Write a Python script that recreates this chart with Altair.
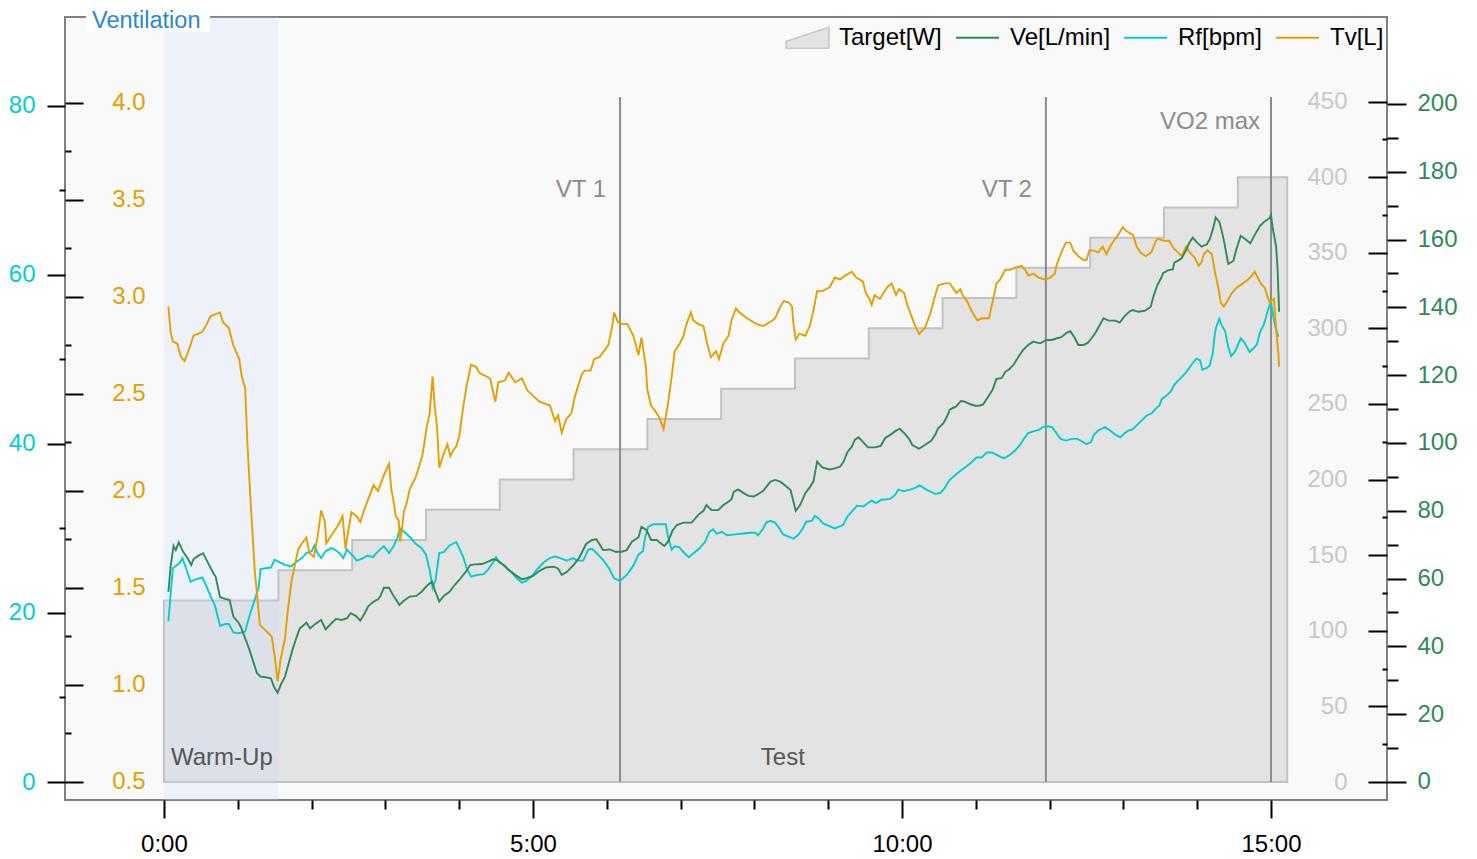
import altair as alt
import pandas as pd

FONT = "Liberation Sans"
FS = 24
LFS = 24

# ---------------- data ----------------
tv_t = [0.06,0.09,0.12,0.18,0.23,0.28,0.34,0.40,0.46,0.52,0.58,0.63,0.69,0.76,0.80,0.88,0.94,1.02,1.05,1.10,
        1.13,1.17,1.23,1.30,1.38,1.46,1.50,1.54,1.58,1.64,1.68,1.73,1.78,1.82,1.87,1.93,1.97,2.03,2.08,2.13,
        2.18,2.20,2.25,2.32,2.37,2.42,2.46,2.50,2.54,2.61,2.66,2.71,2.77,2.84,2.90,2.94,2.99,3.05,3.08,3.11,
        3.14,3.18,3.20,3.23,3.25,3.29,3.33,3.41,3.46,3.50,3.53,3.56,3.60,3.64,3.67,3.70,3.73,3.78,3.84,3.88,
        3.92,3.96,4.00,4.05,4.10,4.16,4.23,4.27,4.32,4.37,4.42,4.46,4.49,4.53,4.62,4.67,4.76,4.85,4.92,5.00,
        5.09,5.23,5.30,5.34,5.39,5.45,5.52,5.57,5.66,5.70,5.78,5.83,5.90,5.94,6.02,6.07,6.10,6.15,6.22,6.28,
        6.36,6.43,6.47,6.53,6.55,6.60,6.66,6.71,6.77,6.83,6.88,6.92,6.99,7.04,7.08,7.14,7.17,7.24,7.31,7.36,
        7.41,7.48,7.52,7.58,7.65,7.69,7.75,7.80,7.90,8.03,8.12,8.21,8.28,8.35,8.40,8.47,8.51,8.53,8.56,8.61,
        8.69,8.75,8.80,8.85,8.92,9.02,9.09,9.16,9.23,9.32,9.38,9.47,9.51,9.56,9.59,9.63,9.70,9.75,9.80,9.86,
        9.92,9.96,10.03,10.07,10.12,10.17,10.23,10.31,10.38,10.43,10.49,10.58,10.65,10.70,10.74,10.79,10.82,10.88,10.94,11.02,
        11.09,11.18,11.23,11.28,11.33,11.40,11.46,11.53,11.62,11.67,11.71,11.78,11.85,11.94,12.01,12.07,12.10,12.16,12.22,12.28,
        12.32,12.39,12.46,12.50,12.54,12.59,12.66,12.72,12.77,12.82,12.87,12.93,12.99,13.04,13.13,13.18,13.23,13.30,13.38,13.44,
        13.47,13.55,13.62,13.68,13.74,13.79,13.85,13.90,13.97,14.02,14.06,14.09,14.14,14.20,14.24,14.29,14.32,14.36,14.41,14.47,
        14.54,14.62,14.69,14.74,14.78,14.82,14.86,14.91,14.94,14.98,15.01,15.04,15.07,15.10,15.11]
tv_v = [2.95,2.82,2.77,2.76,2.69,2.67,2.73,2.80,2.81,2.82,2.86,2.90,2.91,2.92,2.87,2.84,2.75,2.68,2.60,2.53,
        2.25,1.97,1.59,1.31,1.28,1.25,1.15,1.02,1.13,1.24,1.39,1.54,1.63,1.70,1.73,1.76,1.68,1.66,1.76,1.90,
        1.84,1.73,1.76,1.80,1.83,1.87,1.70,1.80,1.89,1.87,1.84,1.90,1.96,2.03,2.00,2.04,2.09,2.14,2.01,1.95,
        1.87,1.85,1.74,1.82,1.89,1.94,2.01,2.07,2.13,2.18,2.25,2.33,2.40,2.59,2.43,2.33,2.12,2.18,2.24,2.18,
        2.21,2.23,2.28,2.42,2.54,2.65,2.64,2.61,2.60,2.59,2.58,2.51,2.46,2.56,2.57,2.61,2.56,2.58,2.52,2.49,
        2.46,2.44,2.36,2.39,2.30,2.37,2.40,2.49,2.60,2.62,2.62,2.68,2.69,2.71,2.75,2.84,2.92,2.87,2.86,2.86,
        2.80,2.70,2.79,2.64,2.52,2.44,2.41,2.38,2.32,2.45,2.59,2.72,2.76,2.80,2.86,2.92,2.88,2.86,2.85,2.76,
        2.69,2.72,2.68,2.76,2.80,2.88,2.94,2.92,2.89,2.86,2.85,2.87,2.89,2.95,2.98,2.97,2.95,2.86,2.78,2.81,
        2.80,2.85,2.93,3.03,3.03,3.05,3.10,3.09,3.11,3.13,3.10,3.08,3.02,2.99,2.96,3.01,2.99,3.02,3.05,3.07,
        3.01,3.04,3.02,2.96,2.91,2.86,2.81,2.84,2.91,2.98,3.06,3.07,3.07,3.04,3.02,3.04,3.01,2.98,2.93,2.88,
        2.89,2.89,2.98,3.07,3.09,3.14,3.14,3.15,3.16,3.14,3.11,3.12,3.10,3.09,3.10,3.12,3.17,3.23,3.28,3.28,
        3.24,3.21,3.19,3.19,3.24,3.24,3.23,3.26,3.22,3.26,3.29,3.32,3.36,3.34,3.32,3.26,3.23,3.21,3.23,3.29,
        3.30,3.29,3.29,3.25,3.23,3.21,3.26,3.23,3.20,3.16,3.18,3.22,3.24,3.22,3.13,3.04,2.97,2.95,2.98,3.02,
        3.05,3.07,3.09,3.11,3.13,3.10,3.07,3.05,3.02,2.97,2.98,2.99,2.83,2.71,2.64]

ve_t = [0.06,0.09,0.13,0.16,0.20,0.26,0.32,0.37,0.40,0.46,0.53,0.60,0.67,0.70,0.76,0.83,0.89,0.94,1.01,1.04,
        1.10,1.16,1.21,1.26,1.31,1.38,1.45,1.49,1.54,1.58,1.64,1.69,1.74,1.80,1.84,1.88,1.93,1.98,2.05,2.13,
        2.19,2.26,2.33,2.41,2.48,2.53,2.60,2.66,2.72,2.77,2.84,2.90,2.93,2.98,3.05,3.11,3.19,3.25,3.33,3.42,
        3.49,3.56,3.63,3.67,3.73,3.79,3.87,3.92,3.98,4.02,4.09,4.15,4.21,4.31,4.39,4.46,4.52,4.60,4.67,4.76,
        4.85,4.91,5.00,5.09,5.18,5.28,5.34,5.39,5.46,5.55,5.63,5.72,5.80,5.86,5.95,6.04,6.12,6.20,6.27,6.34,
        6.43,6.47,6.54,6.60,6.68,6.73,6.78,6.83,6.89,6.95,7.04,7.15,7.24,7.31,7.35,7.42,7.51,7.58,7.65,7.69,
        7.72,7.78,7.85,7.92,7.99,8.05,8.12,8.17,8.22,8.28,8.35,8.41,8.49,8.56,8.62,8.69,8.74,8.80,8.85,8.92,
        9.02,9.09,9.16,9.21,9.26,9.32,9.36,9.41,9.48,9.54,9.63,9.71,9.77,9.84,9.91,9.97,10.04,10.10,10.14,10.23,
        10.31,10.40,10.45,10.49,10.56,10.61,10.65,10.73,10.80,10.85,10.92,10.99,11.05,11.10,11.17,11.23,11.28,11.35,11.40,11.45,
        11.51,11.58,11.64,11.71,11.78,11.87,11.96,12.03,12.10,12.16,12.23,12.28,12.33,12.39,12.46,12.52,12.57,12.63,12.68,12.73,
        12.80,12.89,12.95,13.02,13.09,13.13,13.20,13.29,13.37,13.41,13.46,13.51,13.54,13.61,13.67,13.69,13.74,13.79,13.85,13.89,
        13.94,14.00,14.06,14.13,14.17,14.22,14.25,14.30,14.33,14.37,14.42,14.49,14.53,14.59,14.65,14.72,14.78,14.85,14.91,14.98,
        15.00,15.02,15.07,15.09,15.11]
ve_v = [56.1,63.5,69.6,68.4,70.7,67.9,66.0,64.0,65.7,66.7,67.5,64.5,61.6,60.6,54.5,54.0,53.7,48.8,47.0,45.8,
        42.4,38.9,35.5,32.1,31.1,30.9,30.6,28.1,26.3,28.6,31.1,35.0,38.9,42.9,45.3,46.0,47.0,45.3,46.6,47.8,
        45.0,46.6,48.1,47.8,48.3,49.8,49.0,47.6,49.8,51.9,53.2,53.9,54.7,57.3,57.3,54.9,52.2,53.5,54.7,54.9,
        56.1,57.8,59.1,56.6,53.2,54.9,56.1,57.6,59.1,60.1,62.0,64.0,64.2,64.3,65.0,65.7,65.4,64.0,62.5,61.1,
        59.8,60.1,60.8,62.3,63.3,63.5,63.0,61.1,62.0,64.0,66.3,70.2,71.4,71.6,68.4,68.6,67.9,67.9,68.4,70.9,
        72.2,75.3,74.3,71.4,71.4,70.4,69.6,70.9,74.1,75.8,76.5,76.5,78.8,80.0,81.7,80.2,80.2,81.7,82.7,83.4,
        85.6,86.3,85.3,84.4,84.2,84.9,85.9,87.3,88.6,89.1,88.6,87.6,86.1,80.0,81.7,85.2,86.6,88.6,94.5,92.8,
        92.2,92.5,93.0,94.5,97.3,98.9,100.9,101.7,100.1,98.7,98.7,99.1,101.4,102.4,103.5,104.2,102.7,101.1,99.4,98.3,
        99.4,100.7,102.4,104.3,105.8,107.8,109.9,110.7,112.4,112.2,111.5,111.0,111.0,111.4,113.7,115.8,118.9,119.1,121.0,121.7,
        123.0,125.5,127.4,128.9,129.9,129.4,130.4,130.4,130.9,131.2,132.5,133.0,131.4,128.9,128.9,129.6,130.9,132.8,134.8,136.8,
        136.1,136.1,135.5,137.5,138.9,139.2,138.7,139.0,140.2,143.4,146.6,148.6,150.2,151.0,151.2,153.2,153.8,154.5,156.9,158.9,
        160.6,159.1,157.9,158.6,160.1,163.6,166.5,165.3,162.8,158.9,152.8,153.7,157.1,161.1,160.2,158.9,161.4,164.0,165.3,166.3,
        167.3,163.8,157.9,151.0,138.7]

rf_t = [0.06,0.12,0.18,0.22,0.25,0.30,0.36,0.44,0.52,0.58,0.63,0.69,0.76,0.83,0.88,0.94,1.01,1.10,1.17,1.22,
        1.28,1.31,1.38,1.45,1.50,1.57,1.64,1.72,1.80,1.87,1.93,2.00,2.04,2.08,2.13,2.19,2.27,2.33,2.39,2.43,
        2.48,2.52,2.57,2.61,2.68,2.76,2.83,2.90,2.98,3.05,3.11,3.16,3.20,3.27,3.33,3.41,3.49,3.55,3.60,3.64,
        3.68,3.73,3.79,3.87,3.96,4.01,4.06,4.10,4.16,4.24,4.33,4.39,4.46,4.50,4.54,4.62,4.70,4.78,4.85,4.91,
        4.98,5.07,5.16,5.23,5.30,5.37,5.46,5.54,5.60,5.68,5.75,5.80,5.86,5.95,6.03,6.10,6.18,6.27,6.36,6.43,
        6.49,6.52,6.56,6.63,6.72,6.80,6.83,6.88,6.92,6.98,7.05,7.11,7.18,7.25,7.33,7.39,7.44,7.49,7.56,7.63,
        7.74,7.85,7.94,8.01,8.05,8.12,8.16,8.22,8.28,8.34,8.39,8.47,8.53,8.59,8.65,8.70,8.78,8.82,8.87,8.93,
        9.09,9.20,9.26,9.32,9.39,9.48,9.52,9.59,9.65,9.72,9.84,9.91,9.95,10.02,10.11,10.18,10.24,10.33,10.45,10.52,
        10.58,10.64,10.72,10.79,10.88,10.94,11.01,11.08,11.15,11.22,11.31,11.38,11.46,11.53,11.60,11.65,11.71,11.78,11.86,11.91,
        11.98,12.03,12.10,12.15,12.22,12.30,12.38,12.44,12.50,12.56,12.60,12.66,12.75,12.82,12.89,12.96,13.02,13.07,13.12,13.18,
        13.25,13.32,13.38,13.43,13.49,13.52,13.58,13.64,13.69,13.74,13.80,13.86,13.90,13.95,13.99,14.04,14.07,14.13,14.17,14.21,
        14.24,14.26,14.30,14.33,14.38,14.42,14.46,14.51,14.56,14.59,14.64,14.71,14.76,14.81,14.85,14.90,14.93,14.96,15.00,15.03,
        15.07,15.10]
rf_v = [19.0,25.3,25.7,26.0,26.5,25.3,23.7,24.0,24.2,23.1,22.0,20.9,18.5,18.7,18.7,17.7,17.6,17.8,20.0,21.3,
        22.9,25.2,25.3,25.4,26.3,26.0,25.7,25.5,26.1,26.5,27.1,27.3,28.0,27.1,26.5,27.3,27.7,27.4,27.0,26.5,
        27.5,27.1,26.7,26.2,26.4,26.8,26.6,27.3,27.9,27.1,27.9,28.8,30.0,29.5,29.0,28.2,27.7,26.9,25.1,23.0,
        23.9,27.1,27.2,28.0,28.4,27.5,26.5,25.3,24.3,24.5,24.6,25.1,26.0,26.6,26.0,25.6,24.9,24.1,23.6,23.8,
        24.3,25.3,26.1,26.5,26.7,26.5,26.2,26.5,26.2,26.2,27.5,27.6,27.1,26.3,25.3,24.1,23.8,24.5,25.6,26.9,
        27.3,29.0,30.2,30.5,30.5,30.5,29.0,27.5,27.9,27.8,27.1,26.6,27.1,27.6,28.4,29.6,29.9,29.4,29.6,29.2,
        29.3,29.4,29.5,29.5,29.2,30.0,30.7,30.9,30.7,30.0,29.3,29.0,28.8,29.2,29.9,30.8,30.9,31.5,31.2,30.6,
        30.0,30.4,31.4,32.0,32.7,32.6,32.9,33.3,33.0,33.4,33.5,34.0,34.6,34.4,34.6,34.8,35.1,34.6,34.1,34.2,
        34.8,35.7,36.3,36.8,37.4,37.8,38.4,38.4,39.0,39.0,38.6,38.3,38.7,39.2,39.9,40.6,41.3,41.5,41.7,42.0,
        42.1,42.0,41.2,40.6,40.4,40.6,40.6,40.3,40.0,40.2,41.1,41.6,42.0,41.6,41.1,40.8,41.3,41.6,41.7,42.2,
        42.8,43.4,43.6,44.1,44.6,45.3,45.7,46.2,47.0,47.5,48.0,48.6,49.1,49.7,50.1,49.9,48.8,49.0,49.3,50.7,
        53.1,53.9,54.8,54.1,53.3,51.5,50.4,50.9,51.9,52.5,52.0,50.9,51.3,51.8,53.2,54.1,54.9,55.9,56.8,55.1,
        53.5,52.7]

target_t = [0, 1.55, 2.55, 3.55, 4.55, 5.55, 6.55, 7.55, 8.55, 9.55, 10.55, 11.55, 12.55, 13.55, 14.55, 15.22]
target_w = [120, 140, 160, 180, 200, 220, 240, 260, 280, 300, 320, 340, 360, 380, 400, 400]

phase_name = ["Warm-Up", "Test"]
phase_start = [0.0, 1.55]
phase_end = [1.55, 15.22]

marker_name = ["VT 1", "VT 2", "VO2 max"]
marker_t = [6.18, 11.95, 15.0]
marker_top = [453, 453, 453]

series_names = ["Ve[L/min]", "Rf[bpm]", "Tv[L]"]
series_colors = ["#2e8b57", "#00ced1", "#e69f00"]
target_label = "Target[W]"

# ---------------- frames ----------------
df_tv = pd.DataFrame({"t": tv_t, "v": tv_v, "series": series_names[2]})
df_ve = pd.DataFrame({"t": ve_t, "v": ve_v, "series": series_names[0]})
df_rf = pd.DataFrame({"t": rf_t, "v": rf_v, "series": series_names[1]})
df_tg = pd.DataFrame({"t": target_t, "w": target_w, "lab": target_label})
df_ph = pd.DataFrame({"name": phase_name, "start": phase_start, "end": phase_end})
df_mk = pd.DataFrame({"name": marker_name, "t": marker_t, "top": marker_top})
df_title = pd.DataFrame({"title": ["Ventilation"]})

W, H = 1322, 783
xs = alt.Scale(domain=[-1.341, 16.572], nice=False, zero=False)
rf_dom = [-2.13, 90.53]
tv_dom = [0.407, 4.443]
ve_dom = [-5.31, 225.66]
tg_dom = [-11.9, 505.9]


def cond(test, a, b):
    return {"condition": {"test": test, "value": a}, "value": b}


base_axis = dict(domain=False, grid=False, title=None, labelFont=FONT, labelFontSize=FS,
                 tickColor="black", tickWidth=2, labelOverlap=False, labelFlush=False)

x_axis = alt.Axis(values=list(range(0, 16)),
                  tickSize=cond("datum.value % 5 === 0", 18, 9),
                  labelExpr="datum.value % 5 === 0 ? datum.value + ':00' : ''",
                  labelColor="black", labelPadding=14, labelBaseline="top", **base_axis)


def xenc(field="t"):
    return alt.X(f"{field}:Q", scale=xs, axis=x_axis)


rf_axis = alt.Axis(orient="left", offset=0, values=list(range(0, 81, 10)),
                   tickSize=cond("datum.value % 20 === 0", 18, 6),
                   labelExpr="datum.value % 20 === 0 ? datum.label : ''",
                   labelPadding=12, labelColor="#00ced1", **base_axis)
tv_axis = alt.Axis(orient="right", offset=-W, values=[0.5 + 0.25 * i for i in range(15)],
                   tickSize=cond("abs(datum.value*2 - round(datum.value*2)) < 0.001", 18, 6),
                   labelExpr="abs(datum.value*2 - round(datum.value*2)) < 0.001 ? format(datum.value, '.1f') : ''",
                   labelPadding=62, labelAlign="right", labelColor="#e69f00", **base_axis)
ve_axis = alt.Axis(orient="right", offset=0, values=list(range(0, 201, 10)),
                   tickSize=cond("datum.value % 20 === 0", 19, 11),
                   labelExpr="datum.value % 20 === 0 ? datum.label : ''",
                   labelPadding=11, labelColor="#2e8b57", **base_axis)
tg_axis = alt.Axis(orient="left", offset=-W, values=list(range(0, 451, 25)),
                   tickSize=cond("datum.value % 50 === 0", 19, 5),
                   labelExpr="datum.value % 50 === 0 ? datum.label : ''",
                   labelPadding=21, labelAlign="right", labelColor="#c8c8c8", **base_axis)

color_scale = alt.Scale(domain=series_names, range=series_colors)
line_legend = alt.Legend(orient="none", legendX=890, legendY=-2, direction="horizontal", title=None,
                         symbolType="stroke", symbolSize=1849, symbolStrokeWidth=2,
                         labelFont=FONT, labelFontSize=LFS, labelColor="black", labelOffset=10,
                         columnPadding=9, padding=0)
tg_legend = alt.Legend(orient="none", legendX=720, legendY=-2, direction="horizontal", title=None,
                       symbolType="M-1,0.5L-1,0.18L1,-0.48L1,0.5Z", symbolSize=1849,
                       symbolStrokeColor="#c8c8c8", symbolStrokeWidth=1.5,
                       labelFont=FONT, labelFontSize=LFS, labelColor="black", labelOffset=9, padding=0)

# target area
area = alt.Chart(df_tg).mark_area(interpolate="step-after", stroke="#c2c2c2", strokeWidth=2).encode(
    x=xenc(),
    y=alt.Y("w:Q", scale=alt.Scale(domain=tg_dom, nice=False, zero=False), axis=tg_axis),
    fill=alt.Fill("lab:N", scale=alt.Scale(domain=[target_label], range=["#e3e3e3"]), legend=tg_legend),
)

# warm-up band overlay
band = alt.Chart(df_ph).transform_filter("datum.name == 'Warm-Up'").mark_rect(
    color="#c8defe", opacity=0.23).encode(x=xenc("start"), x2="end:Q")

rules = alt.Chart(df_mk).mark_rule(color="#8c8c8c", strokeWidth=2).encode(
    x=xenc(), y=alt.Y("top:Q", scale=alt.Scale(domain=tg_dom, nice=False, zero=False), axis=None),
    y2=alt.Y2(datum=0))

vt_text = alt.Chart(df_mk).transform_filter("datum.name != 'VO2 max'").mark_text(
    align="right", baseline="middle", dx=-14, font=FONT, fontSize=FS, color="#8c8c8c").encode(
    x=xenc(), y=alt.value(173), text="name:N")
vo_text = alt.Chart(df_mk).transform_filter("datum.name == 'VO2 max'").mark_text(
    align="right", baseline="middle", dx=-11, font=FONT, fontSize=FS, color="#8c8c8c").encode(
    x=xenc(), y=alt.value(105), text="name:N")

wu_text = alt.Chart(df_ph).transform_filter("datum.name == 'Warm-Up'").mark_text(
    align="left", baseline="middle", dx=7, font=FONT, fontSize=FS, color="#555555").encode(
    x=xenc("start"), y=alt.value(741), text="name:N")
test_text = alt.Chart(df_ph).transform_filter("datum.name == 'Test'").transform_calculate(
    mid="(datum.start + datum.end) / 2").mark_text(
    align="center", baseline="middle", font=FONT, fontSize=FS, color="#555555").encode(
    x=xenc("mid"), y=alt.value(741), text="name:N")


def line(df, dom, axis):
    return alt.Chart(df).mark_line(strokeWidth=1.9).encode(
        x=xenc(),
        y=alt.Y("v:Q", scale=alt.Scale(domain=dom, nice=False, zero=False), axis=axis),
        color=alt.Color("series:N", scale=color_scale, legend=line_legend),
    )


ve_line = line(df_ve, ve_dom, ve_axis)
rf_line = line(df_rf, rf_dom, rf_axis)
tv_line = line(df_tv, tv_dom, tv_axis)

title_bg = alt.Chart(df_title).mark_rect(color="white").encode(
    x=alt.value(21), x2=alt.value(145), y=alt.value(-15), y2=alt.value(15))
title_txt = alt.Chart(df_title).mark_text(
    align="left", baseline="middle", font=FONT, fontSize=23.5, color="#2a87d0").encode(
    x=alt.value(27), y=alt.value(3.5), text="title:N")

chart = alt.layer(
    area, band, rules, vt_text, vo_text, wu_text, test_text,
    rf_line, tv_line, ve_line, title_bg, title_txt
).resolve_scale(y="independent").properties(
    width=W, height=H, autosize="none",
    padding={"left": 57, "top": 9, "right": 80, "bottom": 55},
).configure(font=FONT).configure_view(fill="#f9f9f9", stroke="#808080", strokeWidth=2)

chart.save("out.html", embed_options={"renderer": "svg", "actions": False})
